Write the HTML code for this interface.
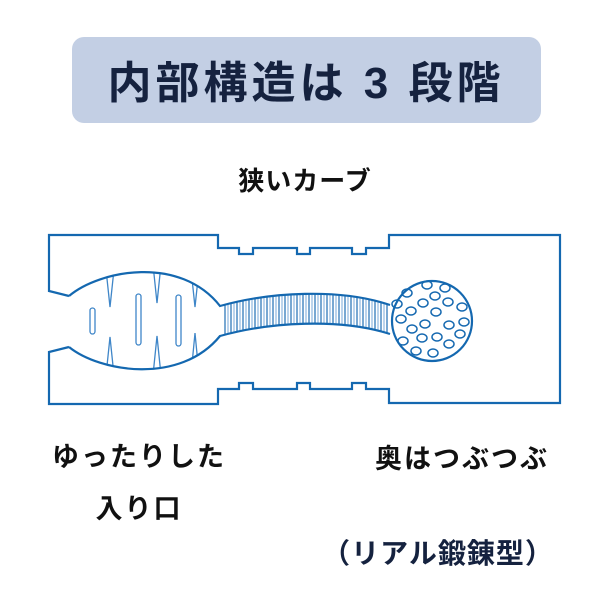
<!DOCTYPE html>
<html><head><meta charset="utf-8"><style>
html,body{margin:0;padding:0;background:#fff}
svg{display:block}
.t{font-family:"Liberation Sans","Noto Sans CJK JP",sans-serif;font-weight:bold}
</style></head><body>
<svg width="600" height="600" viewBox="0 0 600 600" xmlns="http://www.w3.org/2000/svg">
<rect x="72" y="37" width="469" height="86" rx="12" fill="#c3cfe4"/>
<text class="t" x="306" y="98" font-size="44" fill="#15223f" text-anchor="middle" letter-spacing="4">内部構造は 3 段階</text>
<text class="t" x="305" y="190" font-size="26" fill="#111" text-anchor="middle" letter-spacing="1">狭いカーブ</text>
<text class="t" x="139" y="466" font-size="27" fill="#111" text-anchor="middle" letter-spacing="2">ゆったりした</text>
<text class="t" x="139" y="518" font-size="27" fill="#111" text-anchor="middle" letter-spacing="2">入り口</text>
<text class="t" x="462" y="468" font-size="27" fill="#111" text-anchor="middle" letter-spacing="2">奥はつぶつぶ</text>
<text class="t" x="438" y="563" font-size="28" fill="#15223f" text-anchor="middle" letter-spacing="1">（リアル鍛錬型）</text>

<clipPath id="bb"><path d="M69,296 C100,270 180,255 220,306 L220,336 C180,385 100,372 69,347 Z"/></clipPath>
<g fill="none" stroke="#3f86c8" stroke-width="1.3" clip-path="url(#bb)">
<rect x="90" y="308" width="5" height="26" rx="2.5"/>
<rect x="136" y="294" width="5" height="51" rx="2.5"/>
<rect x="176" y="295" width="5" height="51" rx="2.5"/>
<path d="M105,260 L110,307 L115,260"/>
<path d="M152,255 L157,303 L162,255"/>
<path d="M190,260 L195,307 L200,260"/>
<path d="M105,385 L110,337 L115,385"/>
<path d="M152,385 L157,336 L162,385"/>
<path d="M190,385 L195,333 L200,385"/>
</g>
<clipPath id="tb"><path d="M222,306 C270,292 340,288 390,305 L390,334 C340,318 270,322 222,336 Z"/></clipPath>
<g clip-path="url(#tb)" stroke-width="1.2">
<g stroke="#1f6db3">
<path d="M225,290V340M231,290V340M237,290V340M243,290V340M249,290V340M255,290V340M261,290V340M267,290V340M273,290V340M279,290V340M285,290V340M291,290V340M297,290V340M303,290V340M309,290V340M315,290V340M321,290V340M327,290V340M333,290V340M339,290V340M345,290V340M351,290V340M357,290V340M363,290V340M369,290V340M375,290V340M381,290V340M387,290V340"/>
</g>
<g stroke="#8fb8df">
<path d="M228,290V340M234,290V340M240,290V340M246,290V340M252,290V340M258,290V340M264,290V340M270,290V340M276,290V340M282,290V340M288,290V340M294,290V340M300,290V340M306,290V340M312,290V340M318,290V340M324,290V340M330,290V340M336,290V340M342,290V340M348,290V340M354,290V340M360,290V340M366,290V340M372,290V340M378,290V340M384,290V340"/>
</g>
</g>
<g fill="none" stroke="#1468b0" stroke-width="2.2">
<path d="M69,296 L49,291 L49,235 L218,235 L218,248 L239,248 L239,254 L253,254 L253,248 L297,248 L297,254 L310,254 L310,248 L352,248 L352,254 L366,254 L366,248 L389,248 L389,235 L560,235 L560,403 L389,403 L389,389 L366,389 L366,383 L352,383 L352,389 L310,389 L310,383 L297,383 L297,389 L253,389 L253,383 L239,383 L239,389 L218,389 L218,404 L49,404 L49,352 L69,347"/>
<path d="M69,296 C100,270 180,255 220,306 C270,292 340,288 390,305"/>
<path d="M69,347 C100,372 180,385 220,336 C270,322 340,318 390,334"/>
<circle cx="432" cy="321" r="40"/>
</g>
<g fill="none" stroke="#1468b0" stroke-width="1.5">
<ellipse cx="427" cy="285" rx="5" ry="4"/><ellipse cx="445" cy="288" rx="5" ry="4"/>
<ellipse cx="407" cy="293" rx="5" ry="4"/><ellipse cx="435" cy="296" rx="5" ry="4"/>
<ellipse cx="397" cy="304" rx="5" ry="4"/><ellipse cx="423" cy="303" rx="5" ry="4"/>
<ellipse cx="448" cy="302" rx="5" ry="4"/><ellipse cx="462" cy="307" rx="5" ry="4"/>
<ellipse cx="411" cy="311" rx="5" ry="4"/><ellipse cx="436" cy="312" rx="5" ry="4"/>
<ellipse cx="401" cy="319" rx="5" ry="4"/><ellipse cx="425" cy="324" rx="5" ry="4"/>
<ellipse cx="449" cy="325" rx="5" ry="4"/><ellipse cx="464" cy="322" rx="5" ry="4"/>
<ellipse cx="412" cy="329" rx="5" ry="4"/><ellipse cx="460" cy="334" rx="5" ry="4"/>
<ellipse cx="437" cy="337" rx="5" ry="4"/><ellipse cx="422" cy="338" rx="5" ry="4"/>
<ellipse cx="403" cy="341" rx="5" ry="4"/><ellipse cx="449" cy="344" rx="5" ry="4"/>
<ellipse cx="416" cy="351" rx="5" ry="4"/><ellipse cx="433" cy="353" rx="5" ry="4"/>
</g>
</svg>
</body></html>
